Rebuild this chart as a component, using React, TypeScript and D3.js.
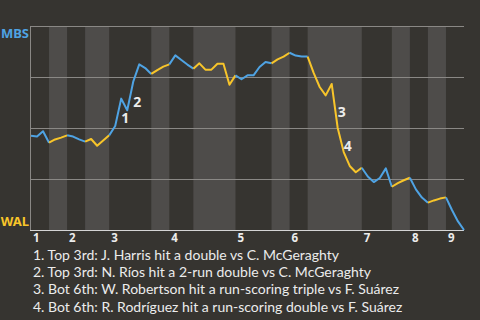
import React from 'react';
import * as d3 from 'd3';

// Win probability of MBS (top = MBS wins, bottom = WAL wins), one value per plate appearance end
const mbsWinProb = [
  0.462, 0.458, 0.484, 0.428, 0.444, 0.453, 0.464, 0.458, 0.444, 0.433,
  0.446, 0.413, 0.439, 0.464, 0.51, 0.644, 0.587, 0.727, 0.812, 0.794,
  0.765, 0.784, 0.801, 0.812, 0.856, 0.833, 0.811, 0.791, 0.817, 0.786,
  0.786, 0.815, 0.815, 0.712, 0.758, 0.739, 0.758, 0.758, 0.799, 0.824,
  0.817, 0.836, 0.85, 0.869, 0.855, 0.85, 0.85, 0.77, 0.701, 0.66,
  0.716, 0.5, 0.382, 0.314, 0.283, 0.305, 0.262, 0.235, 0.255, 0.302,
  0.212, 0.23, 0.244, 0.256, 0.199, 0.159, 0.134, 0.145, 0.154, 0.16,
  0.098, 0.042, 0.0,
];

// plate appearances in each half inning (top 1, bot 1, top 2, ...)
const halfInningPAs = [3, 3, 3, 4, 7, 3, 4, 7, 6, 3, 3, 9, 5, 3, 3, 3, 3];
const inningLabels = ['1', '2', '3', '4', '5', '6', '7', '8', '9'];

const teamTop = 'MBS';
const teamBottom = 'WAL';

const annotationPAs = [15, 17, 51, 52];
const annotationLabels = ['1', '2', '3', '4'];
const legendLines = [
  '1. Top 3rd: J. Harris hit a double vs C. McGeraghty',
  '2. Top 3rd: N. Ríos hit a 2-run double vs C. McGeraghty',
  '3. Bot 6th: W. Robertson hit a run-scoring triple vs F. Suárez',
  '4. Bot 6th: R. Rodríguez hit a run-scoring double vs F. Suárez',
];
const gridValues = [0.25, 0.5, 0.75, 1];

const W = 480;
const H = 320;
const BG = '#363430';
const BAND = '#4e4c4a';
const BLUE = '#4fa3e3';
const YELLOW = '#f8c52a';
const GRID = '#8a8885';
const TEXT = '#ececec';
const FONT = '"Noto Sans", "Open Sans", sans-serif';
const LEGEND_FONT = 'Lato, "Noto Sans", sans-serif';

export default function App() {
  const m = { left: 31, right: 464, top: 26, bottom: 230 };
  const totalPA = mbsWinProb.length - 1;
  const x = d3.scaleLinear().domain([0, totalPA]).range([m.left, m.right]);
  const y = d3.scaleLinear().domain([0, 1]).range([m.bottom, m.top]);

  const starts: number[] = [];
  let acc = 0;
  halfInningPAs.forEach((n) => {
    starts.push(acc);
    acc += n;
  });

  const lineGen = d3
    .line<number>()
    .x((k) => x(k))
    .y((k) => y(mbsWinProb[k]));

  const segs = halfInningPAs.map((n, h) => {
    const s = starts[h];
    const ks = d3.range(s, s + n + 1);
    return { d: lineGen(ks) as string, color: h % 2 === 0 ? BLUE : YELLOW };
  });

  const crisp = (v: number) => Math.round(v) + 0.5;

  return (
    <svg
      width={W}
      height={H}
      style={{ position: 'absolute', left: 0, top: 0, display: 'block' }}
      fontFamily={FONT}
    >
      <rect x={0} y={0} width={W} height={H} fill={BG} />
      {halfInningPAs.map((n, h) =>
        h % 2 === 1 ? (
          <rect
            key={'b' + h}
            x={x(starts[h])}
            y={m.top}
            width={x(starts[h] + n) - x(starts[h])}
            height={m.bottom - m.top}
            fill={BAND}
          />
        ) : null
      )}
      {gridValues.map((g) => (
        <line
          key={'g' + g}
          x1={m.left}
          x2={m.right}
          y1={crisp(y(g))}
          y2={crisp(y(g))}
          stroke={GRID}
          strokeWidth={1}
        />
      ))}
      <line x1={crisp(m.left) - 1} x2={crisp(m.left) - 1} y1={m.top} y2={m.bottom} stroke={GRID} strokeWidth={1} />
      <line x1={m.left - 1} x2={m.right} y1={crisp(y(0))} y2={crisp(y(0))} stroke="#d4d4d4" strokeWidth={1} />
      {segs.map((s, i) => (
        <path key={'s' + i} d={s.d} fill="none" stroke={s.color} strokeWidth={2} strokeLinejoin="round" />
      ))}
      {annotationPAs.map((k, i) => {
        const mx = (x(k - 1) + x(k)) / 2;
        const my = (y(mbsWinProb[k - 1]) + y(mbsWinProb[k])) / 2;
        return (
          <text key={'a' + i} x={mx + 3} y={my + 11} fill={TEXT} fontSize={14} fontWeight="bold">
            {annotationLabels[i]}
          </text>
        );
      })}
      {inningLabels.map((lab, i) => (
        <text key={'t' + i} x={x(starts[i * 2]) + 2} y={242} fill={TEXT} fontSize={11.5} fontWeight="bold">
          {lab}
        </text>
      ))}
      <text x={29} y={38} textAnchor="end" fill={BLUE} fontSize={13} fontWeight="bold">
        {teamTop}
      </text>
      <text x={29} y={226} textAnchor="end" fill={YELLOW} fontSize={13} fontWeight="bold">
        {teamBottom}
      </text>
      {legendLines.map((t, i) => (
        <text key={'l' + i} x={33} y={259.5 + i * 17.4} fill={TEXT} fontSize={14} fontFamily={LEGEND_FONT}>
          {t}
        </text>
      ))}
    </svg>
  );
}
